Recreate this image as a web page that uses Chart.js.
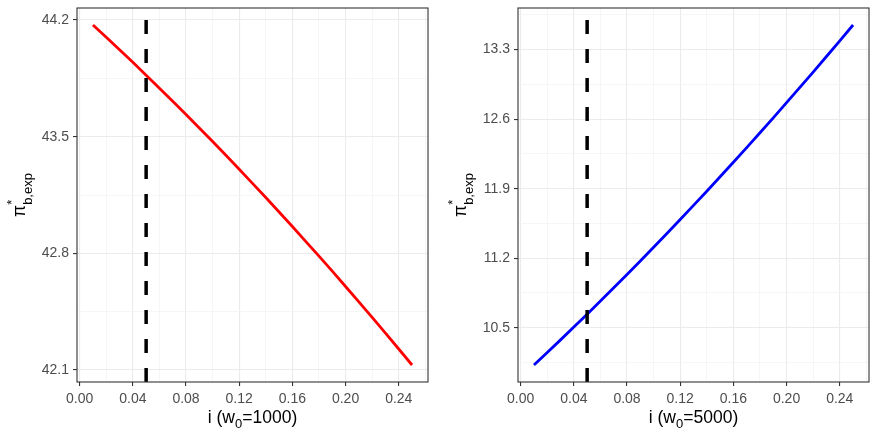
<!DOCTYPE html>
<html>
<head>
<meta charset="utf-8">
<script src="https://cdn.jsdelivr.net/npm/chart.js@4.4.0/dist/chart.umd.min.js"></script>
<style>
  html, body { margin: 0; padding: 0; background: #fff; }
  #wrap { position: relative; width: 871px; height: 431px; }
  canvas { position: absolute; top: 0; }
</style>
</head>
<body>
<div id="wrap">
  <canvas id="left" width="435" height="431" style="left:0"></canvas>
  <canvas id="right" width="431" height="431" style="left:440px"></canvas>
</div>
<script>
// interest rate i on the x axis
const iValues = [0.01, 0.02, 0.03, 0.04, 0.05, 0.06, 0.07, 0.08, 0.09, 0.10,
                 0.11, 0.12, 0.13, 0.14, 0.15, 0.16, 0.17, 0.18, 0.19, 0.20,
                 0.21, 0.22, 0.23, 0.24, 0.25];

// pi*_{b,exp} for w0 = 1000 (left) and w0 = 5000 (right)
const piW1000 = [44.170, 44.096, 44.021, 43.946, 43.869, 43.791, 43.713, 43.633, 43.552, 43.471,
                 43.388, 43.305, 43.220, 43.135, 43.048, 42.961, 42.872, 42.783, 42.693, 42.601,
                 42.509, 42.416, 42.321, 42.226, 42.130];
const piW5000 = [10.125, 10.251, 10.378, 10.507, 10.637, 10.769, 10.902, 11.036, 11.173, 11.311,
                 11.449, 11.590, 11.732, 11.875, 12.020, 12.166, 12.314, 12.463, 12.613, 12.766,
                 12.920, 13.074, 13.231, 13.388, 13.548];

const baseRate = 0.05; // dashed reference line

const xMajor = [0.00, 0.04, 0.08, 0.12, 0.16, 0.20, 0.24];
const xMinor = [0.02, 0.06, 0.10, 0.14, 0.18, 0.22, 0.26];
const yMajorW1000 = [42.1, 42.8, 43.5, 44.2];
const yMinorW1000 = [42.45, 43.15, 43.85];
const yMajorW5000 = [10.5, 11.2, 11.9, 12.6, 13.3];
const yMinorW5000 = [10.15, 10.85, 11.55, 12.25, 12.95, 13.65];

const FONT = '"Liberation Sans", Arial, sans-serif';
Chart.defaults.font.family = FONT;
Chart.defaults.animation = false;

function has(list, v) {
  return list.some(t => Math.abs(t - v) < 1e-9);
}

// ggplot style 5% expansion of the data range
function expand(vals) {
  const lo = Math.min(...vals), hi = Math.max(...vals);
  const pad = (hi - lo) * 0.05;
  return [lo - pad, hi + pad];
}

function drawParts(ctx, parts, x, y) {
  parts.forEach(p => {
    ctx.font = p.size + 'px ' + FONT;
    ctx.fillText(p.text, x, y + p.shift);
    x += ctx.measureText(p.text).width;
  });
}

function partsWidth(ctx, parts) {
  let w = 0;
  parts.forEach(p => {
    ctx.font = p.size + 'px ' + FONT;
    w += ctx.measureText(p.text).width;
  });
  return w;
}

const panelDecor = {
  id: 'panelDecor',
  afterDatasetsDraw(chart) {
    const { ctx, chartArea: a } = chart;
    const x = chart.scales.x.getPixelForValue(baseRate);
    ctx.save();
    ctx.beginPath();
    ctx.rect(a.left, a.top, a.right - a.left, a.bottom - a.top);
    ctx.clip();
    ctx.beginPath();
    ctx.setLineDash([14, 15]);
    ctx.lineWidth = 3.5;
    ctx.strokeStyle = '#000';
    ctx.moveTo(x, a.bottom);
    ctx.lineTo(x, a.top);
    ctx.stroke();
    ctx.restore();

    ctx.save();
    ctx.strokeStyle = '#333333';
    ctx.lineWidth = 1.1;
    ctx.strokeRect(a.left, a.top, a.right - a.left, a.bottom - a.top);
    ctx.restore();
  },
  afterDraw(chart, args, opts) {
    const { ctx, chartArea: a } = chart;
    ctx.save();
    ctx.fillStyle = '#000';
    ctx.textBaseline = 'alphabetic';
    ctx.textAlign = 'left';

    // x title: i (w_0=....)
    const xt = [
      { text: 'i (w', size: 17.5, shift: 0 },
      { text: '0', size: 13, shift: 5 },
      { text: '=' + opts.w0 + ')', size: 17.5, shift: 0 }
    ];
    const cx = (a.left + a.right) / 2;
    drawParts(ctx, xt, cx - partsWidth(ctx, xt) / 2, 423);

    // y title: pi*_{b,exp}, rotated
    ctx.translate(a.left - 57, (a.top + a.bottom) / 2);
    ctx.rotate(-Math.PI / 2);
    ctx.font = '17.5px ' + FONT;
    const piW = ctx.measureText('π').width;
    ctx.font = '13px ' + FONT;
    const subW = ctx.measureText('b,exp').width;
    const x0 = -(piW + subW) / 2;
    ctx.font = '17.5px ' + FONT;
    ctx.fillText('π', x0, 4.5);
    ctx.font = '13px ' + FONT;
    ctx.fillText('b,exp', x0 + piW, 11.5);
    ctx.fillText('*', x0 + piW, -4);
    ctx.restore();
  }
};

function makePanel(id, values, color, yMajor, yMinor, w0, yWidth, padRight) {
  const [yMin, yMax] = expand(values);
  const [xMin, xMax] = expand(iValues);
  const tickFont = { size: 14, family: FONT };

  return new Chart(document.getElementById(id), {
    type: 'line',
    data: {
      datasets: [{
        data: iValues.map((v, k) => ({ x: v, y: values[k] })),
        borderColor: color,
        borderWidth: 2.8,
        pointRadius: 0,
        tension: 0,
        fill: false
      }]
    },
    options: {
      responsive: false,
      layout: { padding: { top: 8, right: padRight, left: 0, bottom: 0 } },
      plugins: {
        legend: { display: false },
        tooltip: { enabled: false },
        panelDecor: { w0: w0 }
      },
      scales: {
        x: {
          type: 'linear',
          min: xMin,
          max: xMax,
          afterBuildTicks: s => {
            s.ticks = xMajor.concat(xMinor).filter(v => v >= xMin && v <= xMax)
              .sort((p, q) => p - q).map(v => ({ value: v }));
          },
          afterFit: s => {
            s.height = 49;
            s.paddingLeft = 0; s.paddingRight = 0;
          },
          ticks: {
            autoSkip: false,
            maxRotation: 0,
            padding: 5,
            color: '#4d4d4d',
            font: tickFont,
            callback: v => has(xMajor, v) ? v.toFixed(2) : ''
          },
          grid: {
            color: c => has(xMajor, c.tick.value) ? '#ebebeb' : '#f2f2f2',
            lineWidth: c => has(xMajor, c.tick.value) ? 1.1 : 0.7,
            tickColor: c => has(xMajor, c.tick.value) ? '#333333' : 'rgba(0,0,0,0)',
            tickLength: 4,
            tickWidth: 1.1
          },
          border: { display: false }
        },
        y: {
          type: 'linear',
          min: yMin,
          max: yMax,
          afterBuildTicks: s => {
            s.ticks = yMajor.concat(yMinor).filter(v => v >= yMin && v <= yMax)
              .sort((p, q) => p - q).map(v => ({ value: v }));
          },
          afterFit: s => {
            s.width = yWidth;
            s.paddingTop = 0; s.paddingBottom = 0;
          },
          ticks: {
            autoSkip: false,
            padding: 4,
            color: '#4d4d4d',
            font: tickFont,
            callback: v => has(yMajor, v) ? v.toFixed(1) : ''
          },
          grid: {
            color: c => has(yMajor, c.tick.value) ? '#ebebeb' : '#f2f2f2',
            lineWidth: c => has(yMajor, c.tick.value) ? 1.1 : 0.7,
            tickColor: c => has(yMajor, c.tick.value) ? '#333333' : 'rgba(0,0,0,0)',
            tickLength: 4,
            tickWidth: 1.1
          },
          border: { display: false }
        }
      }
    },
    plugins: [panelDecor]
  });
}

makePanel('left', piW1000, '#ff0000', yMajorW1000, yMinorW1000, 1000, 77, 7);
makePanel('right', piW5000, '#0000ff', yMajorW5000, yMinorW5000, 5000, 78, 2);
</script>
</body>
</html>
